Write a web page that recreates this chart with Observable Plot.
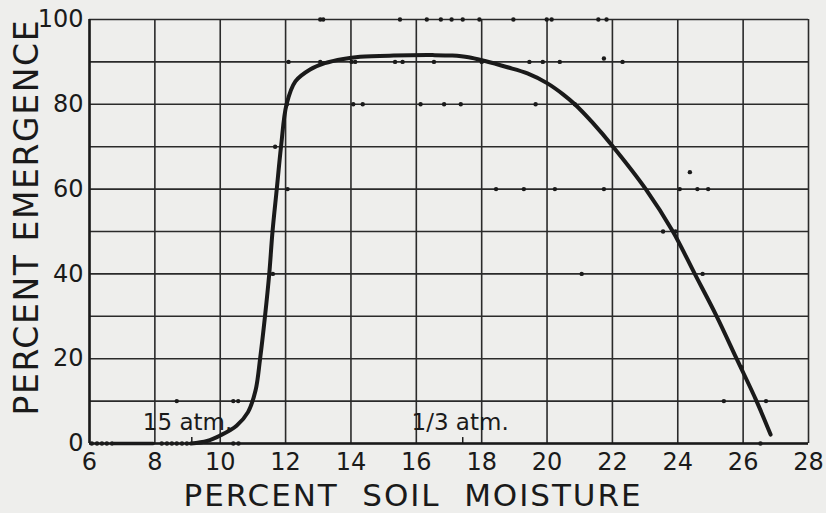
<!DOCTYPE html>
<html>
<head>
<meta charset="utf-8">
<script src="https://cdn.jsdelivr.net/npm/d3@7"></script>
<script src="https://cdn.jsdelivr.net/npm/@observablehq/plot@0.6"></script>
<style>
  html, body { margin: 0; padding: 0; background: #eeeeec; }
  #chart svg { display: block; background: #eeeeec; }
</style>
</head>
<body>
<div id="chart"></div>
<script>
// ---- data ----
const xTicks = [6, 8, 10, 12, 14, 16, 18, 20, 22, 24, 26, 28];
const yTicks = [0, 20, 40, 60, 80, 100];
const yGrid = [0, 10, 20, 30, 40, 50, 60, 70, 80, 90, 100];

// fitted emergence curve (x = soil moisture %, y = emergence %)
const curveX = [9.1, 9.6, 10.0, 10.5, 10.85, 11.08, 11.22, 11.37, 11.5, 11.6, 11.73, 11.86, 12.03, 12.3, 12.75, 13.2, 13.77, 14.28, 15.3, 16.5, 17.1, 17.6, 18.1, 18.76, 19.4, 20.0, 20.5, 20.85, 21.4, 22.02, 23.02, 23.85, 24.52, 25.19, 25.8, 26.41, 26.84];
const curveY = [0, 0.6, 1.9, 4.2, 7.4, 12.5, 20, 30, 40, 50, 60, 70, 80, 85.4, 88.2, 89.7, 90.7, 91.2, 91.5, 91.6, 91.5, 91.1, 90.2, 88.8, 87.3, 85.0, 82.3, 80, 75.6, 70, 60, 50, 40, 30, 20, 10, 2.1];

// solid stretch of the curve along zero
const baseX = [6.75, 7.95];
const baseY = [0, 0];

// observed points
const ptX = [
  13.06, 13.15, 15.5, 16.32, 16.75, 17.08, 17.42, 17.93, 18.97, 19.99, 20.14, 21.57, 21.82,
  12.09, 13.06, 14.02, 14.13, 15.35, 15.58, 16.54, 18.0, 19.46, 19.87, 20.39, 21.74, 22.31,
  12.04, 14.07, 14.36, 16.13, 16.85, 17.36, 19.65, 20.85,
  11.68,
  12.06, 18.44, 19.29, 20.24, 21.74, 24.06, 24.6, 24.93, 24.37,
  23.55, 23.93,
  11.61, 21.06, 24.76,
  25.95,
  8.67, 10.4, 10.55, 25.41, 26.7,
  6.07, 6.23, 6.38, 6.53, 6.69, 8.21, 8.37, 8.52, 8.67, 8.83, 8.98, 10.4, 10.56, 26.53
];
const ptY = [
  100, 100, 100, 100, 100, 100, 100, 100, 100, 100, 100, 100, 100,
  90, 90, 90, 90, 90, 90, 90, 90, 90, 90, 90, 90.8, 90,
  80, 80, 80, 80, 80, 80, 80, 80,
  70,
  60, 60, 60, 60, 60, 60, 60, 60, 64,
  50, 50,
  40, 40, 40,
  18,
  10, 10, 10, 10, 10,
  0, 0, 0, 0, 0, 0, 0, 0, 0, 0, 0, 0, 0, 0
];

// pressure markers on the baseline
const markX = [9.13, 17.42];
const markLabel = ["15 atm.", "1/3 atm."];
const markLabelX = [9.0, 17.34];
const markLabelY = [5, 5];

const xLabel = "PERCENT  SOIL  MOISTURE";
const yLabel = "PERCENT EMERGENCE";

// ---- build tables ----
const curve = curveX.map((x, i) => ({x, y: curveY[i]}));
const base = baseX.map((x, i) => ({x, y: baseY[i]}));
const pts = ptX.map((x, i) => ({x, y: ptY[i]}));
const marks = markX.map((x) => ({x}));
const labels = markLabel.map((t, i) => ({t, x: markLabelX[i], y: markLabelY[i]}));

const ink = "#1a1a1a";
const font = "DejaVu Sans, sans-serif";

const chart = Plot.plot({
  width: 826,
  height: 513,
  marginLeft: 89,
  marginRight: 18,
  marginTop: 19,
  marginBottom: 70,
  style: {background: "#eeeeec", fontFamily: font, color: ink},
  x: {domain: [6, 28]},
  y: {domain: [0, 100]},
  marks: [
    Plot.ruleX(xTicks, {stroke: "#2a2a2a", strokeWidth: 1.6}),
    Plot.ruleY(yGrid, {stroke: "#2a2a2a", strokeWidth: 1.6}),
    Plot.ruleX([6], {stroke: ink, strokeWidth: 2.5}),
    Plot.ruleY([0], {stroke: ink, strokeWidth: 2.5}),
    Plot.axisX({ticks: xTicks, tickSize: 0, tickPadding: 9, fontSize: 24, label: null, tickFormat: d => String(d)}),
    Plot.axisY({ticks: yTicks, tickSize: 0, tickPadding: 6, fontSize: 24, label: null, tickFormat: d => String(d)}),
    Plot.ruleX(marks, {x: "x", y1: 0, y2: 1.4, stroke: ink, strokeWidth: 1.5}),
    Plot.line(base, {x: "x", y: "y", stroke: ink, strokeWidth: 3.5}),
    Plot.line(curve, {x: "x", y: "y", stroke: ink, strokeWidth: 4, curve: "catmull-rom"}),
    Plot.dot(pts, {x: "x", y: "y", r: 2.2, fill: ink, stroke: null}),
    Plot.text(labels, {x: "x", y: "y", text: "t", fontSize: 23, fill: ink, textAnchor: "middle"}),
    Plot.text([xLabel], {className: "xlab", frameAnchor: "bottom", dx: -37, dy: 53, fontSize: 31, fill: ink, textAnchor: "middle", lineAnchor: "middle"}),
    Plot.text([yLabel], {className: "ylab", frameAnchor: "left", dx: -62, dy: -13.5, rotate: -90, fontSize: 33, fill: ink, textAnchor: "middle", lineAnchor: "middle"})
  ]
});

const svg = d3.select(chart);
svg.selectAll("text").style("white-space", "pre");
svg.selectAll(".xlab text").attr("textLength", 457).attr("lengthAdjust", "spacing");
svg.selectAll(".ylab text").attr("textLength", 395).attr("lengthAdjust", "spacing");
document.getElementById("chart").appendChild(chart);
</script>
</body>
</html>
